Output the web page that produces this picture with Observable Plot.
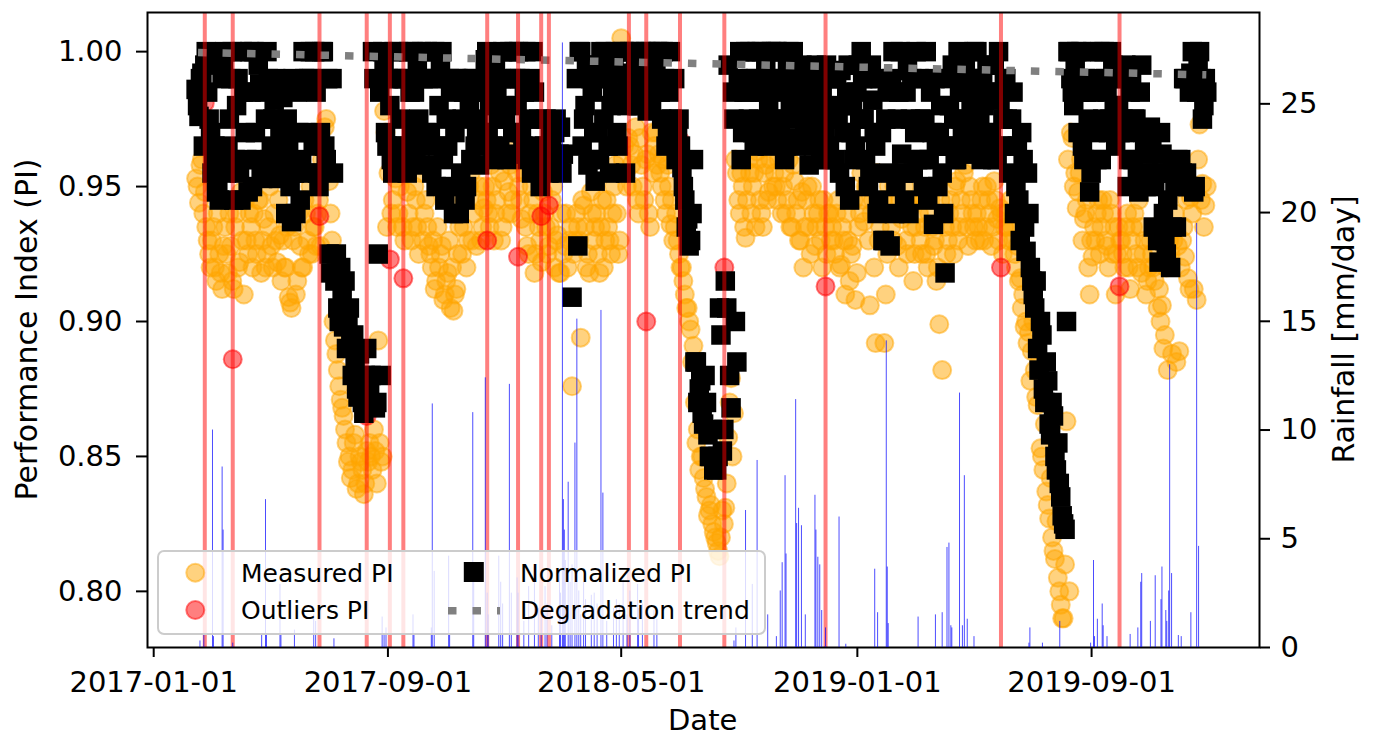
<!DOCTYPE html>
<html>
<head>
<meta charset="utf-8">
<script src="https://cdn.jsdelivr.net/npm/d3@7"></script>
<script src="https://cdn.jsdelivr.net/npm/@observablehq/plot@0.6"></script>
<style>
  body { margin: 0; background: white; }
  #wrap { position: relative; width: 1373px; height: 737px; font-family: "DejaVu Sans", sans-serif; }
  #wrap > svg { position: absolute; left: 0; top: 0; }
</style>
</head>
<body>
<div id="wrap"></div>
<script>
// ---------- data ----------
// Two interleaved sample sets (every 3 days, the second one offset by 1.5 days)
const startA = "2017-02-14T00:00:00Z";
const startB = "2017-02-15T12:00:00Z";
const stepDays = 3;

const measuredPI_A = [
 .953,.944,.96,.948,.93,.92,.935,.915,.925,.912,
 .935,.918,.928,.912,.94,.922,.93,.945,.925,.935,
 .94,.925,.945,.93,.92,.935,.928,.94,.922,.932,
 .93,.92,.909,.905,.935,.915,.928,.92,.94,.925,
 .925,.935,.94,.928,.965,.975,.952,.93,.893,.882,
 .871,.865,.855,.85,.845,.858,.84,.848,.836,.852,
 .855,.845,.852,.893,.848,.978,.935,.964,.945,.953,
 .94,.955,.93,.948,.962,.935,.945,.925,.958,.94,
 .935,.925,.93,.915,.92,.928,.91,.918,.905,.904,
 .912,.935,.925,.945,.93,.955,.94,.928,.95,.935,
 .95,.94,.958,.93,.945,.955,.935,.962,.948,.94,
 .965,.955,.945,.96,.935,.925,.95,.918,.94,.93,
 .948,.935,.928,.945,.92,.932,.918,.925,.94,.93,
 .876,.93,.935,.894,.943,.92,.918,.94,.935,.925,
 .935,.92,.945,.93,.94,.958,.925,1.005,.965,.95,
 .965,.95,.972,.94,.958,.945,.962,.935,.955,.97,
 .962,.95,.945,.958,.936,.93,.94,.925,.92,.91,
 .905,.897,.891,.855,.845,.85,.838,.828,.832,.822,
 .818,.813,.83,.831,.857,.879,.866,.955,.94,.95,
 .931,.96,.94,.955,.963,.945,.935,.958,.948,.965,
 .955,.945,.965,.95,.94,.96,.935,.952,.945,.93,
 .92,.945,.935,.95,.928,.94,.93,.945,.925,.94,
 .935,.925,.945,.921,.93,.94,.915,.928,.908,.935,
 .955,.937,.95,.906,.945,.892,.93,.94,.892,.925,
 .945,.93,.955,.92,.938,.95,.925,.942,.915,.935,
 .94,.925,.935,.92,.945,.928,.915,.899,.882,.935,
 .93,.945,.925,.952,.935,.94,.958,.928,.945,.935,
 .94,.93,.95,.935,.945,.928,.952,.938,.942,.925,
 .94,.93,.935,.925,.928,.916,.91,.9,.896,.889,
 .882,.869,.853,.845,.837,.827,.82,.812,.805,.795,
 .79,.863,.8,.968,.955,.948,.96,.938,.945,.91,
 .924,.93,.945,.935,.94,.928,.945,.925,.91,.935,
 .93,.92,.94,.912,.935,.925,.945,.918,.93,.915,
 .93,.92,.935,.912,.906,.895,.882,.925,.93,.885,
 .889,.93,.924,.916,.946,.912,.908,.973,.951,.943
];
const measuredPI_B = [
 .95,.958,.94,.935,.925,.93,.92,.94,.918,.928,
 .925,.94,.915,.935,.92,.948,.91,.93,.94,.92,
 .93,.945,.918,.938,.925,.95,.92,.93,.945,.915,
 .92,.935,.907,.93,.91,.94,.92,.945,.93,.95,
 .935,.928,.945,.96,.972,.955,.94,.9,.888,.876,
 .868,.86,.848,.842,.855,.838,.85,.845,.84,.848,
 .85,.86,.84,.855,.85,.97,.955,.94,.958,.935,
 .95,.935,.96,.94,.93,.95,.935,.955,.93,.945,
 .928,.92,.912,.935,.925,.908,.915,.93,.92,.91,
 .925,.945,.935,.92,.95,.93,.958,.945,.93,.942,
 .945,.935,.95,.94,.962,.93,.952,.94,.958,.945,
 .96,.95,.938,.955,.928,.94,.945,.925,.935,.922,
 .94,.925,.935,.95,.93,.918,.94,.928,.92,.935,
 .925,.94,.93,.945,.935,.925,.948,.93,.94,.918,
 .945,.93,.935,.925,.95,.94,.93,.96,.955,.968,
 .958,.962,.945,.968,.95,.96,.94,.97,.965,.958,
 .955,.96,.94,.95,.945,.935,.93,.92,.915,.905,
 .9,.885,.87,.86,.85,.842,.835,.83,.825,.82,
 .815,.82,.825,.84,.87,.85,.96,.945,.955,.935,
 .945,.955,.95,.935,.96,.94,.955,.945,.96,.95,
 .95,.96,.94,.955,.945,.935,.958,.94,.93,.948,
 .935,.95,.925,.94,.935,.945,.92,.935,.94,.93,
 .93,.94,.92,.935,.91,.93,.925,.945,.918,.94,
 .945,.95,.93,.94,.92,.955,.935,.945,.91,.95,
 .935,.95,.928,.945,.94,.93,.945,.935,.925,.945,
 .93,.945,.925,.94,.935,.93,.92,.945,.94,.925,
 .94,.935,.95,.93,.945,.955,.935,.95,.94,.93,
 .935,.945,.93,.95,.94,.935,.945,.93,.94,.935,
 .935,.945,.93,.92,.915,.905,.898,.892,.878,.9,
 .872,.885,.85,.862,.832,.842,.815,.826,.8,.79,
 .81,.96,.97,.95,.942,.955,.93,.94,.92,.93,
 .935,.94,.925,.945,.93,.92,.94,.935,.925,.93,
 .925,.935,.92,.93,.94,.92,.935,.925,.91,.92,
 .925,.915,.905,.9,.89,.92,.93,.888,.94,.928,
 .92,.935,.945,.912,.94,.95,.96,.945,.935,.95
];

const normalizedPI_A = [
 .986,.976,.992,.995,.985,.97,.958,.948,.945,.99,
 1,.965,.99,.945,.98,.955,1,.97,.948,.985,
 1,.96,.988,.953,.975,.99,.965,.982,.958,.97,
 .983,.94,.965,.937,.955,.985,.945,1,.97,.99,
 .99,1,.955,.97,1,.96,.925,.99,.915,.905,
 .92,.898,.89,.905,.88,.885,.872,.878,.866,.89,
 .875,1,.868,.925,.88,.997,.965,.98,.955,.99,
 1,.965,.99,.955,.985,1,.96,.975,1,.958,
 1,.97,.99,.95,.98,1,.945,.965,.985,.94,
 .99,.94,.975,.945,.985,.96,.99,.97,.958,.985,
 .997,.97,.99,.96,.985,.965,1,.975,.962,.99,
 1,.98,.99,.965,1,.975,.955,.985,.96,.95,
 .96,.975,.955,.965,.97,.958,.972,.962,null,null,
 .909,null,.928,1,.975,.995,.96,.985,.952,.97,
 1,.975,.99,.955,.985,1,.965,.992,1,.98,
 1,.985,.995,.98,1,.99,.978,1,.988,.995,
 1,.975,.99,.97,1,.968,.96,.975,.957,.945,
 .938,.93,.96,.885,.875,.866,.88,.858,.85,.845,
 .845,.905,.852,.915,.995,.868,.975,.885,1,.97,
 1,.975,.99,.965,1,.985,.97,.995,.98,1,
 .99,1,.97,.985,.965,1,.975,.99,.968,.98,
 .992,.975,.958,.985,.97,.99,.96,.98,.995,.965,
 .99,.96,.975,.993,.97,.985,.945,.98,.965,.995,
 1,.975,.99,.955,.982,.965,.945,.97,.93,.985,
 .928,1,.95,.985,.962,.945,.993,.975,.955,1,
 .99,.96,.975,.945,.985,.936,.965,.97,.955,.918,
 .965,.99,.975,.96,.985,.97,.995,.962,.98,1,
 1,.975,.99,.965,.985,.97,.995,.96,.982,.975,
 .99,.955,.975,.94,.965,.93,.96,.926,.94,.915,
 .905,.89,.9,.875,.885,.862,.87,.85,.855,.835,
 .825,.9,1,.985,.995,.97,1,.96,.985,.948,
 1,.97,.99,.96,1,.985,.975,.995,.965,.98,
 .99,.97,.95,.985,.96,.975,.948,.995,.965,.955,
 .972,.935,.955,.922,.962,.93,.945,.92,.958,.935,
 .952,.955,.99,.95,.992,.948,.985,1,.975,.99
];
const normalizedPI_B = [
 .98,.99,.965,1,.975,.955,.965,.95,.96,.997,
 .955,.975,1,.96,.99,.945,.985,.96,1,.95,
 .97,.995,.955,.985,1,.96,.975,.99,.953,.985,
 .96,.975,.95,.99,.94,.97,.96,.99,.955,1,
 .965,.985,.95,1,.965,.99,.918,.955,.925,.9,
 .91,.915,.9,.893,.895,.875,.888,.87,.88,.872,
 .88,.99,.87,.985,1,.97,.99,.96,1,.965,
 .975,.99,.96,1,.97,.985,.995,.965,.99,.97,
 .99,.955,1,.965,.995,.96,.975,.99,.95,.97,
 .99,.955,.985,.95,.98,.99,.965,.975,.985,.97,
 1,.98,.965,.995,.975,.99,.98,.96,1,.97,
 .99,1,.97,.985,.96,.99,1,.965,.975,.958,
 .965,.96,.972,.958,.975,.962,.955,null,null,null,
 null,.99,1,.965,.98,.958,.99,.97,.995,.96,
 .99,1,.965,.98,.995,.97,.985,1,.955,.99,
 .99,1,.98,.995,.985,1,.99,.98,.995,1,
 .985,1,.965,.985,.975,.99,.97,.965,.95,.935,
 .928,.94,.885,.87,.878,.862,.87,.85,.86,.848,
 .85,.895,.86,.905,.88,.985,.9,.99,.96,.985,
 .985,1,.97,.99,.975,1,.985,.965,1,.975,
 1,.975,.99,.96,.995,.98,1,.965,.985,.995,
 .97,.99,.98,.965,.995,.975,.985,.97,.96,.99,
 .975,.99,.955,.98,.95,.995,.97,.96,.985,.975,
 .99,.96,.95,.995,.97,.94,.99,.93,.975,.955,
 .99,.94,.975,1,.955,.985,.94,.99,.97,.96,
 .975,.95,1,.96,.97,.99,.95,.98,.94,.965,
 .98,.995,.96,1,.975,.985,.965,.99,.97,.985,
 .99,.96,.98,.995,.97,.96,.985,1,.965,.99,
 .975,.965,.985,.95,.945,.97,.935,.955,.92,.91,
 .915,.882,.895,.87,.878,.858,.865,.845,.84,.828,
 .823,1,.99,.98,1,.985,.965,.99,.975,.955,
 .985,.96,1,.975,.99,.97,1,.98,.99,.97,
 .975,.995,.96,.99,.975,.955,.985,.97,.95,.962,
 .965,.95,.93,.97,.94,.925,.955,.935,.95,.96,
 .96,.99,.955,.985,1,.95,.995,.99,.98,.985
];

const outlierDates = ["2017-02-23","2017-03-24","2017-06-22","2017-08-10","2017-09-03","2017-09-17",
  "2017-12-13","2018-01-14","2018-02-07","2018-02-15","2018-05-09","2018-05-27","2018-07-01",
  "2018-08-16","2018-11-29","2019-05-30","2019-09-30"];
const outlierPI = [0.981,0.886,0.939,0.865,0.923,0.916,0.930,0.924,0.939,0.943,0.985,0.900,0.967,
  0.920,0.913,0.920,0.913];

const trendDates = ["2017-02-16","2019-12-29"];
const trendPI = [0.9997, 0.9914];

const rainDates = [
 "2017-02-18","2017-02-22","2017-03-03","2017-03-04","2017-03-13","2017-03-14","2017-03-24","2017-04-23","2017-04-27","2017-04-28",
 "2017-05-12","2017-05-13","2017-05-27","2017-06-16","2017-06-18","2017-07-07","2017-08-26","2017-08-28","2017-08-30","2017-09-27",
 "2017-09-28","2017-10-16","2017-10-17","2017-10-19","2017-11-03","2017-11-04","2017-11-28","2017-11-29","2017-12-11","2017-12-13",
 "2017-12-14","2017-12-25","2017-12-27","2017-12-29","2018-01-05","2018-01-07","2018-01-13","2018-01-14","2018-01-20","2018-01-25",
 "2018-01-31","2018-02-04","2018-02-07","2018-02-11","2018-02-13","2018-02-18","2018-02-26","2018-02-27","2018-03-01","2018-03-02",
 "2018-03-03","2018-03-04","2018-03-07","2018-03-09","2018-03-11","2018-03-14","2018-03-16","2018-03-18","2018-03-20","2018-03-23",
 "2018-03-25","2018-03-31","2018-04-03","2018-04-06","2018-04-10","2018-04-12","2018-04-16","2018-04-23","2018-04-26","2018-04-29",
 "2018-05-03","2018-05-07","2018-05-10","2018-05-18","2018-05-19","2018-05-23","2018-06-04","2018-06-07","2018-08-26","2018-08-28",
 "2018-09-07","2018-09-14","2018-09-19","2018-09-30","2018-10-09","2018-10-13","2018-10-15","2018-10-18","2018-10-19","2018-10-29",
 "2018-10-30","2018-11-01","2018-11-04","2018-11-08","2018-11-18","2018-11-19","2018-11-21","2018-11-23","2018-11-25","2018-11-29",
 "2018-12-13","2018-12-20","2019-01-19","2019-01-22","2019-01-31","2019-02-01","2019-02-02","2019-03-05","2019-03-23","2019-03-30",
 "2019-04-04","2019-04-06","2019-04-08","2019-04-09","2019-04-17","2019-04-20","2019-04-22","2019-04-25","2019-05-02","2019-06-28",
 "2019-06-29","2019-07-12","2019-07-30","2019-08-31","2019-09-03","2019-09-04","2019-09-07","2019-09-12","2019-09-13","2019-09-17",
 "2019-10-11","2019-10-19","2019-10-22","2019-10-23","2019-11-01","2019-11-06","2019-11-12","2019-11-13","2019-11-17","2019-11-18",
 "2019-11-20","2019-11-21","2019-11-23","2019-11-30","2019-12-03","2019-12-13","2019-12-19","2019-12-21"
];
const rainMM = [
 0.3,0.6,10.0,0.5,8.3,5.4,0.2,0.6,6.8,0.6,
 2.9,0.6,0.8,1.5,1.2,0.4,1.4,0.6,0.9,1.5,
 0.6,0.9,11.2,3.5,4.2,0.6,10.8,3.1,12.4,2.5,
 1.5,4.2,3.0,2.0,12.1,2.5,3.2,2.5,1.2,2.8,
 3.0,1.8,1.5,2.8,2.0,1.0,3.5,2.5,27.8,6.8,
 5.4,4.0,7.6,3.0,3.8,9.4,15.1,2.6,1.5,3.0,
 2.2,2.4,2.5,2.0,15.5,7.1,1.2,1.8,2.2,2.0,
 3.1,1.5,2.6,2.9,1.8,2.0,1.7,1.3,0.3,0.9,
 6.3,2.9,8.6,1.5,0.5,2.6,3.9,7.9,4.3,11.4,
 5.7,6.4,5.6,1.5,7.0,5.4,4.15,3.8,1.7,0.9,
 6.0,0.15,3.6,1.6,14.1,3.7,1.1,1.4,1.5,1.6,
 4.6,4.8,1.0,0.9,11.7,1.0,7.9,1.3,0.5,0.2,
 0.9,0.2,1.2,0.2,4.0,0.5,1.3,2.0,1.0,0.5,
 0.6,0.9,3.0,3.4,1.2,3.3,2.2,3.7,1.7,1.2,
 2.6,13.0,3.4,0.55,0.5,1.6,19.5,4.65
];

const xTicks = ["2017-01-01","2017-09-01","2018-05-01","2019-01-01","2019-09-01"];
const piTicks = [0.80, 0.85, 0.90, 0.95, 1.00];
const rainTicks = [0, 5, 10, 15, 20, 25];

// ---------- build ----------
const W = 1373, H = 737;
const parse = d3.utcParse("%Y-%m-%d");
const toRows = (start, vals) => {
  const t0 = new Date(start);
  return vals.map((v, i) => ({date: d3.utcDay.offset(t0, i * stepDays), pi: v})).filter(d => d.pi != null);
};
const measured = toRows(startA, measuredPI_A).concat(toRows(startB, measuredPI_B)).sort((a, b) => a.date - b.date);
const normalized = toRows(startA, normalizedPI_A).concat(toRows(startB, normalizedPI_B)).sort((a, b) => a.date - b.date);
const outliers = outlierDates.map((d, i) => ({date: parse(d), pi: outlierPI[i]}));
const trend = trendDates.map((d, i) => ({date: parse(d), pi: trendPI[i]}));
const rain = rainDates.map((d, i) => ({date: parse(d), mm: rainMM[i]}));

const xDomain = [new Date("2016-12-25T13:40:00Z"), new Date("2020-02-22T04:50:00Z")];
const common = {width: W, height: H, marginLeft: 147, marginRight: 114, marginTop: 12, marginBottom: 90};

const piChart = Plot.plot({
  ...common,
  style: {background: "white", fontFamily: "DejaVu Sans", fontSize: "29px"},
  x: {type: "utc", domain: xDomain},
  y: {domain: [0.7792, 1.0145]},
  marks: [
    Plot.dot(measured, {x: "date", y: "pi", r: 9, fill: "orange", fillOpacity: 0.5, stroke: "orange", strokeOpacity: 0.5, strokeWidth: 2}),
    Plot.dot(outliers, {x: "date", y: "pi", r: 9, fill: "red", fillOpacity: 0.5, stroke: "red", strokeOpacity: 0.5, strokeWidth: 2}),
    Plot.dot(normalized, {x: "date", y: "pi", symbol: "square", r: 11, fill: "black"}),
    Plot.line(trend, {x: "date", y: "pi", stroke: "grey", strokeWidth: 7.5, strokeDasharray: "8.5,16", strokeLinecap: "butt"}),
    Plot.ruleX(outliers, {x: "date", stroke: "red", strokeOpacity: 0.5, strokeWidth: 4}),
    Plot.axisX({ticks: xTicks.map(parse), tickFormat: d3.utcFormat("%Y-%m-%d"), tickSize: 10, tickPadding: 14, fontSize: 29, strokeWidth: 2, label: null}),
    Plot.axisY({ticks: piTicks, tickFormat: d => d.toFixed(2), tickSize: 11, tickPadding: 14, fontSize: 29, strokeWidth: 2, label: null}),
    Plot.frame({stroke: "black", strokeWidth: 2})
  ]
});

const rainChart = Plot.plot({
  ...common,
  style: {background: "transparent", fontFamily: "DejaVu Sans", fontSize: "29px"},
  x: {type: "utc", domain: xDomain, axis: null},
  y: {domain: [0, 29.2]},
  marks: [
    Plot.ruleX(rain, {x: "date", y1: 0, y2: "mm", stroke: "blue", strokeOpacity: 0.7, strokeWidth: 1}),
    Plot.axisY({anchor: "right", ticks: rainTicks, tickSize: 10, tickPadding: 11, fontSize: 29, strokeWidth: 2, label: null})
  ]
});

const wrap = document.getElementById("wrap");
wrap.append(piChart);
wrap.append(rainChart);

// ---------- axis titles and legend ----------
const ov = d3.select(wrap).append("svg").attr("width", W).attr("height", H)
  .style("font-family", "DejaVu Sans").style("background", "transparent");

ov.append("text").attr("x", 702.7).attr("y", 730).attr("text-anchor", "middle")
  .attr("font-size", 29).text("Date");
ov.append("text").attr("transform", "translate(37,329.5) rotate(-90)").attr("text-anchor", "middle")
  .attr("font-size", 30).text("Performance Index (PI)");
ov.append("text").attr("transform", "translate(1354,329.5) rotate(-90)").attr("text-anchor", "middle")
  .attr("font-size", 30).text("Rainfall [mm/day]");

const lg = ov.append("g");
lg.append("rect").attr("x", 158).attr("y", 551).attr("width", 607).attr("height", 83).attr("rx", 6)
  .attr("fill", "white").attr("fill-opacity", 0.8).attr("stroke", "#cccccc").attr("stroke-width", 2);
lg.append("circle").attr("cx", 195.3).attr("cy", 572.7).attr("r", 9)
  .attr("fill", "orange").attr("fill-opacity", 0.5).attr("stroke", "orange").attr("stroke-opacity", 0.5).attr("stroke-width", 2);
lg.append("circle").attr("cx", 195.3).attr("cy", 610).attr("r", 9)
  .attr("fill", "red").attr("fill-opacity", 0.5).attr("stroke", "red").attr("stroke-opacity", 0.5).attr("stroke-width", 2);
lg.append("rect").attr("x", 463.8).attr("y", 562).attr("width", 20).attr("height", 20).attr("fill", "black");
lg.append("line").attr("x1", 448).attr("x2", 500).attr("y1", 610.7).attr("y2", 610.7)
  .attr("stroke", "grey").attr("stroke-width", 7.5).attr("stroke-dasharray", "8.5,16");
const legText = [["Measured PI", 241, 581.7], ["Outliers PI", 241, 619.3], ["Normalized PI", 520, 581.5], ["Degradation trend", 520, 619.3]];
legText.forEach(([t, x, y]) => lg.append("text").attr("x", x).attr("y", y).attr("font-size", 25).text(t));
</script>
</body>
</html>
